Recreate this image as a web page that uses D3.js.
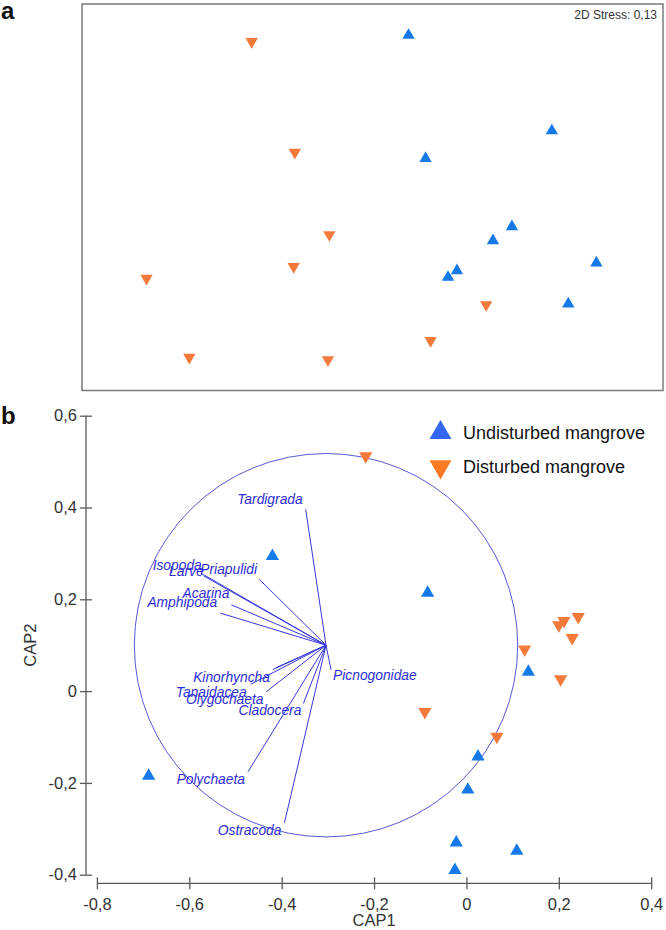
<!DOCTYPE html>
<html>
<head>
<meta charset="utf-8">
<script src="https://cdn.jsdelivr.net/npm/d3@7"></script>
<style>
  html, body { margin: 0; padding: 0; background: #fff; }
  svg { display: block; font-family: Arial, "Liberation Sans", sans-serif; }
</style>
</head>
<body>
<svg id="chart" width="666" height="930"></svg>
<script>
// ---------------- DATA ----------------
const groups = ["Undisturbed mangrove", "Disturbed mangrove"];

// Panel a: nMDS ordination (arbitrary units)
const nmdsUndisturbed = [
  [0.186, 0.838], [0.926, 0.344], [0.274, 0.201], [0.720, -0.152], [0.622, -0.225],
  [1.156, -0.340], [0.436, -0.380], [0.390, -0.414], [1.011, -0.552]
];
const nmdsDisturbed = [
  [-0.624, 0.805], [-0.401, 0.232], [-0.223, -0.194], [-0.407, -0.359], [-1.167, -0.420],
  [-0.946, -0.828], [-0.230, -0.841], [0.300, -0.742], [0.587, -0.556]
];
const stressLabel = "2D Stress: 0,13";

// Panel b: CAP ordination
const capUndisturbed = [
  [-0.420, 0.294], [-0.084, 0.214], [0.134, 0.042], [0.025, -0.143], [0.003, -0.215],
  [-0.688, -0.185], [-0.022, -0.330], [0.109, -0.348], [-0.025, -0.390]
];
const capDisturbed = [
  [-0.218, 0.512], [0.242, 0.162], [0.211, 0.153], [0.200, 0.144], [0.229, 0.116],
  [0.126, 0.091], [0.204, 0.026], [-0.090, -0.045], [0.066, -0.099]
];

const species = ["Tardigrada", "Isopoda", "Larve", "Priapulidi", "Acarina", "Amphipoda",
  "Kinorhyncha", "Tanaidacea", "Olygochaeta", "Cladocera", "Polychaeta", "Ostracoda", "Picnogonidae"];
const speciesCAP1 = [-0.348, -0.573, -0.569, -0.449, -0.509, -0.533,
  -0.419, -0.467, -0.433, -0.353, -0.473, -0.394, -0.293];
const speciesCAP2 = [0.396, 0.256, 0.251, 0.244, 0.188, 0.170,
  0.047, 0.015, -0.001, -0.027, -0.176, -0.287, 0.046];
const extraVectorCAP1 = [-0.412];   // second, nearly overlapping vector near Kinorhyncha
const extraVectorCAP2 = [0.051];

const vectorOrigin = [-0.304, 0.100];
const circleRadius = 0.415;

const xTicks = [-0.8, -0.6, -0.4, -0.2, 0, 0.2, 0.4];
const yTicks = [-0.4, -0.2, 0, 0.2, 0.4, 0.6];

// ---------------- LAYOUT / STYLE ----------------
const C_BLUE = "#1579e8", C_ORANGE = "#f47a3c";
const C_LEG_BLUE = "#3466f2", C_LEG_ORANGE = "#fa7a26";
const C_VEC = "#3838e0", C_CIRC = "#5858d8", C_LAB = "#2e2ed6";
const AXIS = "#5a5a5a";

const labelLayout = {
  Tardigrada:   {anchor: "end",   dx: -3, dy: -5},
  Isopoda:      {anchor: "end",   dx: 0,  dy: -4},
  Larve:        {anchor: "end",   dx: 0,  dy: 0},
  Priapulidi:   {anchor: "end",   dx: -2, dy: -5},
  Acarina:      {anchor: "end",   dx: -2, dy: -7},
  Amphipoda:    {anchor: "end",   dx: -3, dy: -6},
  Kinorhyncha:  {anchor: "end",   dx: -3, dy: 12},
  Tanaidacea:   {anchor: "end",   dx: -4, dy: 13},
  Olygochaeta:  {anchor: "end",   dx: -3, dy: 12},
  Cladocera:    {anchor: "end",   dx: -2, dy: 12},
  Polychaeta:   {anchor: "end",   dx: -3, dy: 12},
  Ostracoda:    {anchor: "end",   dx: -3, dy: 12},
  Picnogonidae: {anchor: "start", dx: 2,  dy: 10}
};

const svg = d3.select("#chart");
const fmt = v => (v === 0 ? "0" : String(v).replace(".", ","));
const triUp = d3.symbol().type(d3.symbolTriangle);

function tri(g, pts, sx, sy, size, color, down) {
  g.selectAll(null).data(pts).join("path")
    .attr("d", triUp.size(size)())
    .attr("fill", color)
    .attr("transform", d => `translate(${sx(d[0])},${sy(d[1])})${down ? " rotate(180)" : ""}`);
}

// ---------------- PANEL A ----------------
const aLeft = 82, aRight = 663, aTop = 4, aBottom = 390.5;
const ax = d3.scaleLinear().domain([-1.5, 1.5]).range([aLeft, aRight]);
const ay = d3.scaleLinear().domain([-1, 1]).range([aBottom, aTop]);
const ga = svg.append("g");
ga.append("rect").attr("x", aLeft).attr("y", aTop)
  .attr("width", aRight - aLeft).attr("height", aBottom - aTop)
  .attr("fill", "none").attr("stroke", "#7a7a7a").attr("stroke-width", 1.5);
ga.append("text").attr("x", 657).attr("y", 18.5).attr("text-anchor", "end")
  .attr("font-size", 12).attr("fill", "#333").text(stressLabel);
tri(ga, nmdsDisturbed, ax, ay, 66, C_ORANGE, true);
tri(ga, nmdsUndisturbed, ax, ay, 66, C_BLUE, false);
svg.append("text").attr("x", 1).attr("y", 19).attr("font-size", 24)
  .attr("font-weight", "bold").attr("fill", "#111").text("a");

// ---------------- PANEL B ----------------
const bx = d3.scaleLinear().domain([-0.8, 0.4]).range([96.9, 651.2]);
const by = d3.scaleLinear().domain([-0.4, 0.6]).range([874.7, 415.7]);
const gb = svg.append("g");

// axes
const xAxisG = gb.append("g").attr("transform", "translate(0,883.3)")
  .call(d3.axisBottom(bx).tickValues(xTicks).tickFormat(fmt).tickSize(6).tickPadding(9));
const yAxisG = gb.append("g").attr("transform", "translate(86,0)")
  .call(d3.axisLeft(by).tickValues(yTicks).tickFormat(fmt).tickSize(6).tickPadding(3));
[xAxisG, yAxisG].forEach(g => {
  g.select(".domain").attr("stroke", AXIS).attr("stroke-width", 1.3);
  g.selectAll(".tick line").attr("stroke", AXIS).attr("stroke-width", 1.3);
  g.selectAll(".tick text").attr("font-size", 16.5).attr("fill", "#333")
    .attr("font-family", 'Arial, "Liberation Sans", sans-serif');
});
xAxisG.select(".domain").attr("d", `M${bx(-0.8)},0H${bx(0.4)}`);
yAxisG.select(".domain").attr("d", `M0,${by(0.6)}V${by(-0.4)}`);
xAxisG.selectAll(".tick line").attr("y1", -6).attr("y2", 6);
yAxisG.selectAll(".tick line").attr("x1", 6).attr("x2", -6);
yAxisG.selectAll(".tick text").attr("x", -9);

gb.append("text").attr("x", bx(-0.2)).attr("y", 926).attr("text-anchor", "middle")
  .attr("font-size", 16.5).attr("fill", "#333").text("CAP1");
gb.append("text").attr("transform", `translate(36,${by(0.1)}) rotate(-90)`)
  .attr("text-anchor", "middle").attr("font-size", 16.5).attr("fill", "#333").text("CAP2");

// correlation circle
const ox = bx(vectorOrigin[0]), oy = by(vectorOrigin[1]);
const rPx = bx(vectorOrigin[0] + circleRadius) - ox;
gb.append("circle").attr("cx", ox).attr("cy", oy).attr("r", rPx)
  .attr("fill", "none").attr("stroke", C_CIRC).attr("stroke-width", 1);

// vectors
const vecData = species.map((s, i) => ({name: s, x: speciesCAP1[i], y: speciesCAP2[i]}));
const extraData = extraVectorCAP1.map((v, i) => ({x: v, y: extraVectorCAP2[i]}));
gb.selectAll(null).data(vecData.concat(extraData)).join("line")
  .attr("x1", ox).attr("y1", oy)
  .attr("x2", d => bx(d.x)).attr("y2", d => by(d.y))
  .attr("stroke", C_VEC).attr("stroke-width", 1);
gb.selectAll(null).data(vecData).join("text")
  .attr("x", d => bx(d.x) + labelLayout[d.name].dx)
  .attr("y", d => by(d.y) + labelLayout[d.name].dy)
  .attr("text-anchor", d => labelLayout[d.name].anchor)
  .attr("font-size", 13.8).attr("font-style", "italic").attr("fill", C_LAB)
  .text(d => d.name);

// points
tri(gb, capDisturbed, bx, by, 76, C_ORANGE, true);
tri(gb, capUndisturbed, bx, by, 76, C_BLUE, false);

// legend
const legend = gb.append("g");
const legendRows = [
  {label: groups[0], color: C_LEG_BLUE, down: false, cy: 432.7, ty: 438.5},
  {label: groups[1], color: C_LEG_ORANGE, down: true, cy: 466.7, ty: 472.7}
];
legendRows.forEach(r => {
  legend.append("path").attr("d", triUp.size(210)())
    .attr("transform", `translate(440.5,${r.cy})${r.down ? " rotate(180)" : ""}`)
    .attr("fill", r.color);
  legend.append("text").attr("x", 463).attr("y", r.ty).attr("font-size", 18)
    .attr("fill", "#111").text(r.label);
});

svg.append("text").attr("x", 1).attr("y", 424).attr("font-size", 24)
  .attr("font-weight", "bold").attr("fill", "#111").text("b");
</script>
</body>
</html>
